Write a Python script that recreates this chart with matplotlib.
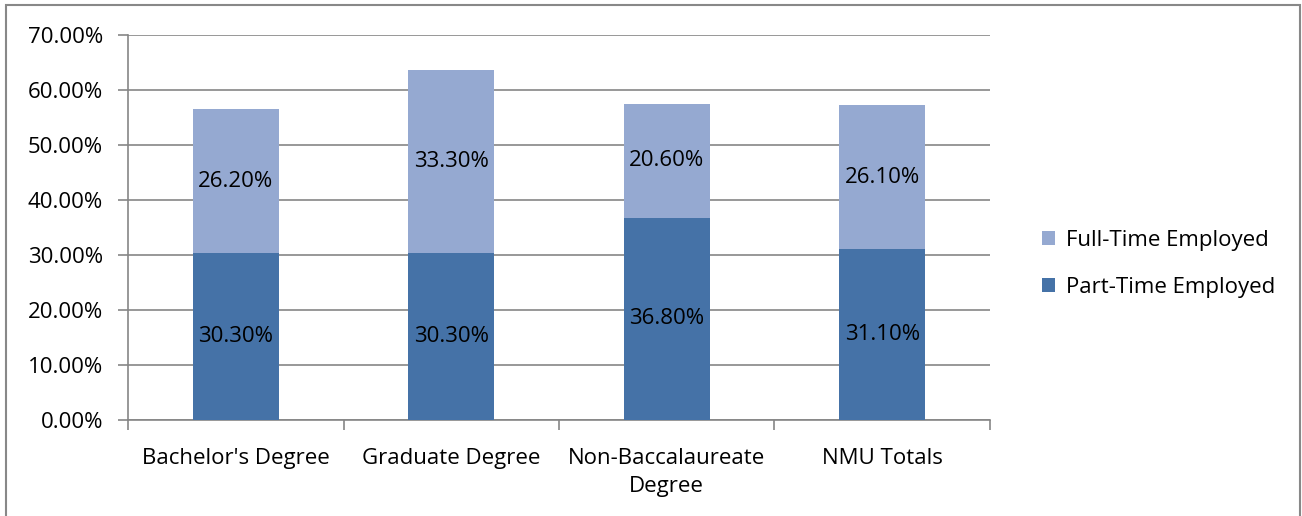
import numpy as np
import matplotlib.pyplot as plt
from matplotlib.patches import Rectangle

categories = ["Bachelor's Degree", "Graduate Degree", "Non-Baccalaureate\nDegree", "NMU Totals"]
part_time = [30.3, 30.3, 36.8, 31.1]
full_time = [26.2, 33.3, 20.6, 26.1]

dark = '#4572A7'
light = '#95A9D1'
grid = '#868686'
fs = 16

plt.rcParams['font.family'] = ['Open Sans', 'DejaVu Sans']

fig = plt.figure(figsize=(13.02, 5.16), dpi=100)
fig.patches.append(Rectangle((6/1302, -0.1), 1294/1302, 1 - 5/516 + 0.1,
                             transform=fig.transFigure, fill=False,
                             edgecolor='#888888', linewidth=1.5))
ax = fig.add_axes([128/1302, 1 - 420/516, 862/1302, 385/516])

x = np.arange(len(categories))
w = 0.4
b1 = ax.bar(x, part_time, w, color=dark, label='Part-Time Employed', zorder=3)
b2 = ax.bar(x, full_time, w, bottom=part_time, color=light, label='Full-Time Employed', zorder=3)

for i in range(len(x)):
    ax.text(x[i], part_time[i] / 2, '%.2f%%' % part_time[i], ha='center', va='center', fontsize=fs, zorder=4)
    ax.text(x[i], part_time[i] + full_time[i] / 2, '%.2f%%' % full_time[i], ha='center', va='center', fontsize=fs, zorder=4)

ax.set_xlim(-0.5, len(categories) - 0.5)
ax.set_ylim(0, 70)
ax.set_yticks(np.arange(0, 71, 10))
ax.set_yticklabels(['%.2f%%' % v for v in np.arange(0, 71, 10)], fontsize=fs)
ax.yaxis.grid(True, color=grid, linewidth=1.2, zorder=0)
ax.tick_params(axis='y', length=7, width=1.2, color=grid, pad=11)

ax.set_xticks(x)
ax.set_xticklabels(categories, fontsize=fs, linespacing=1.45)
ax.set_xticks(np.arange(-0.5, len(categories)), minor=True)
ax.tick_params(axis='x', which='major', length=0, pad=20)
ax.tick_params(axis='x', which='minor', length=7, width=1.2, color=grid)

for s in ['top', 'right']:
    ax.spines[s].set_visible(False)
for s in ['left', 'bottom']:
    ax.spines[s].set_color(grid)
    ax.spines[s].set_linewidth(1.2)

handles = [b2, b1]
leg = fig.legend(handles, ['Full-Time Employed', 'Part-Time Employed'],
                 loc='center left', bbox_to_anchor=(1022/1302, 1 - 264/516),
                 frameon=False, fontsize=fs, handlelength=0.6, handleheight=0.6,
                 handletextpad=0.5, labelspacing=1.15)

fig.savefig('out.png', dpi=100)
